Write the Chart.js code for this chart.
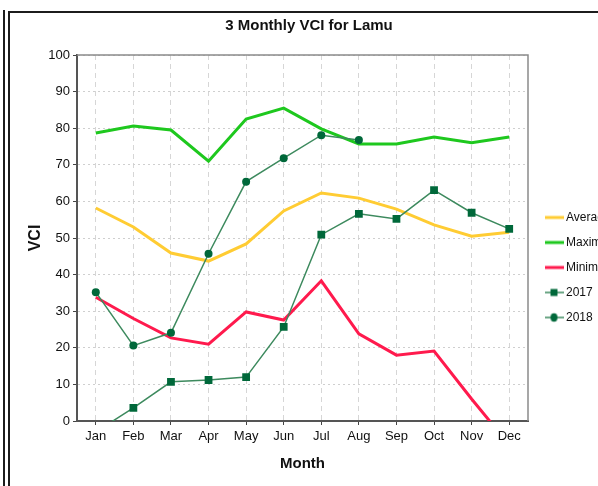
<!DOCTYPE html>
<html><head><meta charset="utf-8">
<script src="https://cdn.jsdelivr.net/npm/chart.js@4.4.0/dist/chart.umd.min.js"></script>
<style>
html,body{margin:0;padding:0;background:#fff;overflow:hidden;width:598px;height:486px;}
#wrap{position:absolute;left:0;top:0;width:618px;height:486px;}
.f{position:absolute;background:#1c1c1c;}
</style></head><body>
<div id="wrap"><canvas id="c" width="618" height="486"></canvas></div>
<div class="f" style="left:3px;top:10px;width:2px;height:476px"></div>
<div class="f" style="left:8px;top:11px;width:2px;height:475px"></div>
<div class="f" style="left:8px;top:11px;width:590px;height:2px"></div>
<script>
const months = ['Jan','Feb','Mar','Apr','May','Jun','Jul','Aug','Sep','Oct','Nov','Dec'];
const average = [58.2,53.0,45.9,43.7,48.4,57.4,62.3,60.9,57.9,53.6,50.5,51.6];
const maxima  = [78.7,80.6,79.5,71.0,82.5,85.5,79.8,75.7,75.7,77.6,76.0,77.6];
const minima  = [33.8,28.0,22.7,21.0,29.8,27.6,38.3,23.8,18.0,19.1,6.0,-6.5];
const vci2017 = [-3.0,3.6,10.7,11.2,12.0,25.7,50.9,56.6,55.2,63.1,56.9,52.5];
const vci2018 = [35.2,20.6,24.1,45.7,65.4,71.8,78.1,76.8,null,null,null,null];
const yTicks  = [0,10,20,30,40,50,60,70,80,90,100];

const FONT = "'Liberation Sans',Arial,sans-serif";
const C_AVG = '#ffcc33', C_MAX = '#1ec81e', C_MIN = '#ff1a4d', C_LINE = '#3d8a5e', C_MARK = '#00683a';

function icon(color, lw, marker) {
  const c = document.createElement('canvas');
  c.width = 19; c.height = 12;
  const x = c.getContext('2d');
  x.strokeStyle = color; x.lineWidth = lw;
  x.beginPath(); x.moveTo(0, 6); x.lineTo(19, 6); x.stroke();
  x.fillStyle = C_MARK;
  if (marker === 'rect') x.fillRect(6, 2.5, 7, 7);
  if (marker === 'circle') { x.beginPath(); x.ellipse(9.5, 6, 3.5, 4.2, 0, 0, Math.PI * 2); x.fill(); }
  return c;
}
const icons = [icon(C_AVG, 3), icon(C_MAX, 3), icon(C_MIN, 3), icon(C_LINE, 1.5, 'rect'), icon(C_LINE, 1.5, 'circle')];

const framePlugin = {
  id: 'frame',
  beforeInit(chart) {
    const lg = chart.legend;
    if (lg) { const orig = lg.fit.bind(lg); lg.fit = function () { orig(); this.width = 83; }; }
  },
  beforeDatasetsDraw(chart) {
    const {ctx, chartArea: a} = chart;
    ctx.save(); ctx.strokeStyle = '#8a8a8a'; ctx.lineWidth = 1.5;
    ctx.beginPath(); ctx.moveTo(a.left, a.top); ctx.lineTo(a.right, a.top); ctx.lineTo(a.right, a.bottom); ctx.stroke();
    ctx.restore();
  }
};

new Chart(document.getElementById('c'), {
  type: 'line',
  data: {
    labels: months,
    datasets: [
      {label: 'Average', data: average, borderColor: C_AVG, borderWidth: 3, pointRadius: 0, order: 1},
      {label: 'Maxima', data: maxima, borderColor: C_MAX, borderWidth: 3, pointRadius: 0, order: 1},
      {label: 'Minima', data: minima, borderColor: C_MIN, borderWidth: 3, pointRadius: 0, order: 1},
      {label: '2017', data: vci2017, borderColor: C_LINE, borderWidth: 1.5, pointStyle: 'rect', pointRadius: 5.5, pointBackgroundColor: C_MARK, pointBorderWidth: 0, order: 0},
      {label: '2018', data: vci2018, borderColor: C_LINE, borderWidth: 1.5, pointStyle: 'circle', pointRadius: 4, pointBackgroundColor: C_MARK, pointBorderWidth: 0, order: 0}
    ]
  },
  options: {
    responsive: false, animation: false, devicePixelRatio: 1,
    layout: {padding: 0},
    elements: {line: {tension: 0}},
    plugins: {
      tooltip: {enabled: false},
      title: {display: true, text: '3 Monthly VCI for Lamu', color: '#111',
        font: {family: FONT, size: 15, weight: 'bold'}, padding: {top: 17, bottom: 20}},
      legend: {position: 'right', align: 'center',
        title: {display: true, text: '', padding: {top: 48, bottom: 0}, font: {size: 1, lineHeight: 1}},
        labels: {usePointStyle: true, boxWidth: 12, boxHeight: 11, pointStyleWidth: 12, padding: 13, color: '#111',
          font: {family: FONT, size: 12},
          sort: (a, b) => a.datasetIndex - b.datasetIndex,
          generateLabels: (chart) => chart.data.datasets.map((d, i) => ({
            text: d.label, datasetIndex: i, pointStyle: icons[i], fillStyle: 'transparent', strokeStyle: 'transparent', lineWidth: 0, hidden: false, fontColor: '#111'
          }))
        }
      }
    },
    scales: {
      x: {
        offset: true,
        grid: {offset: false, color: '#d6d6d6', tickLength: 4, tickColor: '#444', tickBorderDash: [], lineWidth: 1},
        border: {color: '#555', width: 2, dash: [5, 4]},
        ticks: {color: '#111', font: {family: FONT, size: 13}, padding: 4, maxRotation: 0, autoSkip: false},
        title: {display: true, text: 'Month', color: '#111', font: {family: FONT, size: 15, weight: 'bold'}, padding: {top: 0, bottom: 13}},
        afterFit: (s) => { s.height = 65; }
      },
      y: {
        min: 0, max: 100,
        afterBuildTicks: (s) => { s.ticks = yTicks.map(v => ({value: v})); },
        grid: {color: '#cfcfcf', tickLength: 4, tickColor: '#444', tickBorderDash: [], lineWidth: 1},
        border: {color: '#555', width: 2, dash: [2, 3]},
        ticks: {color: '#111', font: {family: FONT, size: 13}, padding: 3},
        title: {display: true, text: 'VCI', color: '#111', font: {family: FONT, size: 16, weight: 'bold'}, padding: {top: 26.4, bottom: 0}},
        afterFit: (s) => { s.width = 77; }
      },
      gap: {
        type: 'linear', position: 'right', display: true,
        grid: {display: false, drawOnChartArea: false, drawTicks: false},
        border: {display: false},
        ticks: {display: false},
        afterFit: (s) => { s.width = 7; }
      }
    }
  },
  plugins: [framePlugin]
});
</script>
</body></html>
